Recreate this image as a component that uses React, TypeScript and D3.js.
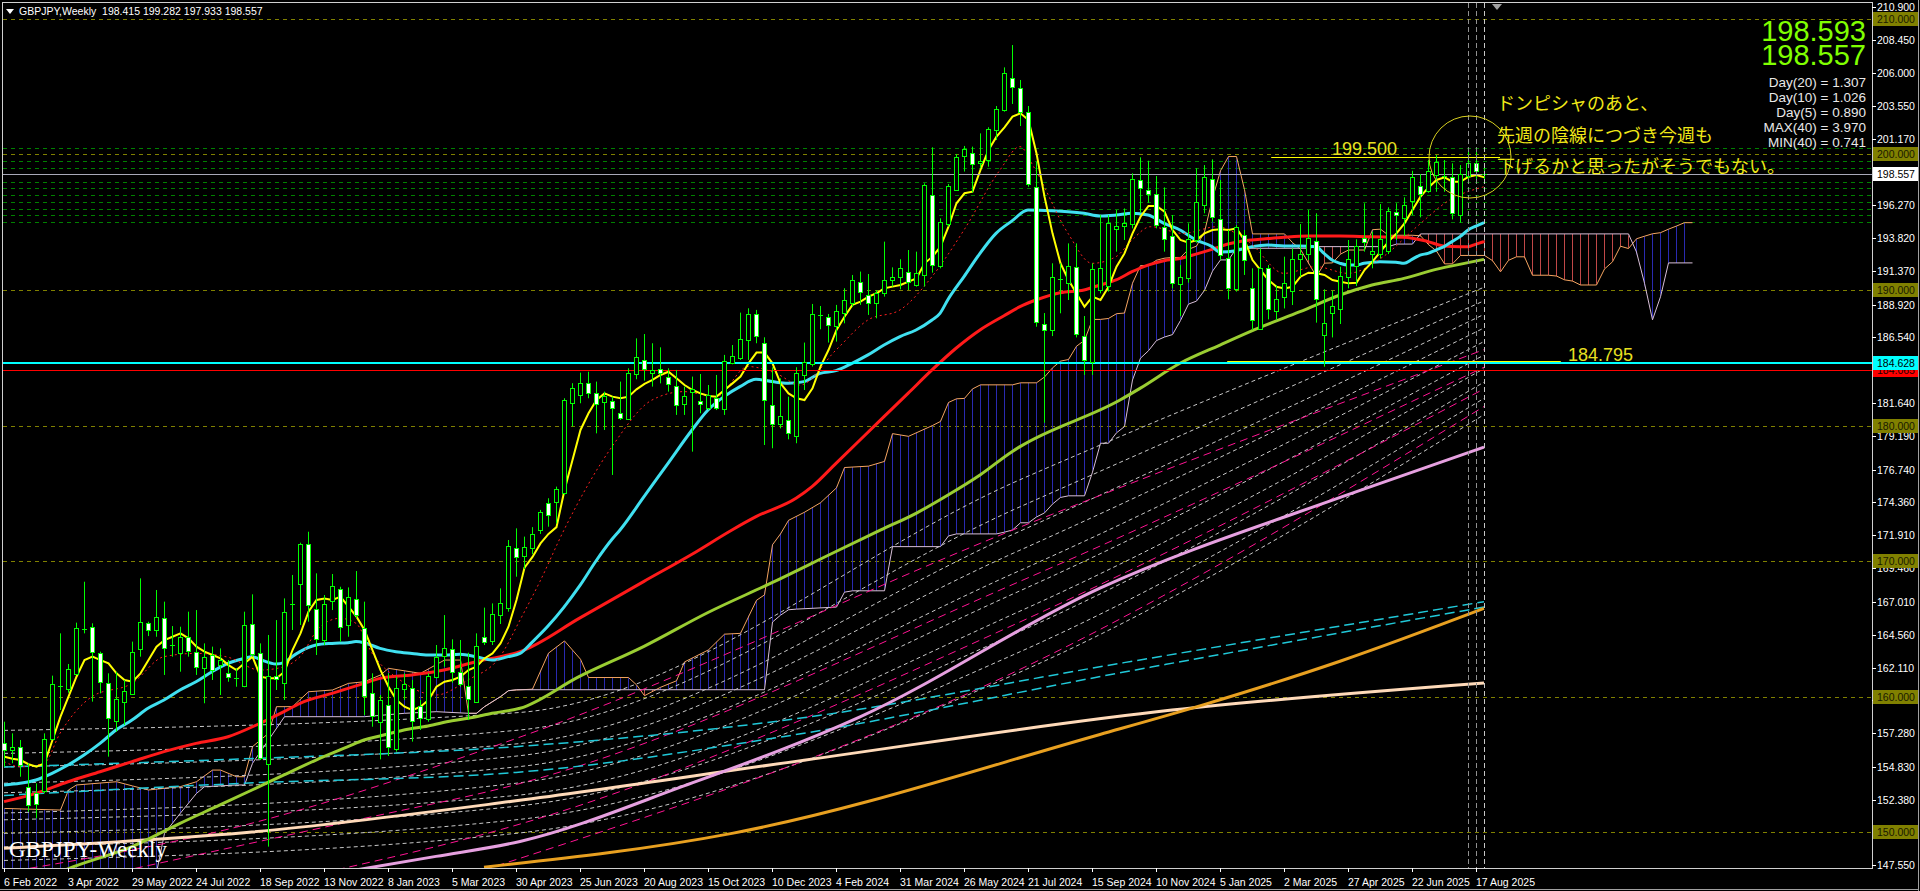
import React from 'react';
import * as d3 from 'd3';

// ---------- DATA ----------
const opens = [156.54,156.1,156.30,153.34,152.90,152.98,156.84,160.70,160.53,161.66,164.96,165.10,163.23,161.02,158.21,159.64,160.23,163.48,165.40,164.91,165.77,163.70,163.23,164.36,163.31,162.15,163.06,162.32,161.71,161.30,160.77,165.35,163.18,155.07,161.51,161.02,166.78,168.28,171.23,166.43,164.17,167.05,167.91,165.28,167.22,165.08,160.23,158.09,159.40,156.10,160.55,160.65,159.30,158.39,161.46,162.99,163.53,161.83,160.80,159.62,164.36,164.05,166.01,166.58,170.93,170.3,171.0,172.29,174.26,174.31,175.00,181.64,182.30,183.16,182.42,181.76,181.83,180.95,180.53,183.80,184.83,183.90,184.15,183.56,182.92,181.59,182.42,181.83,181.27,182.06,181.27,184.64,184.96,186.31,188.21,186.07,181.51,180.09,180.41,179.23,183.73,184.54,188.05,187.98,187.35,188.33,189.02,190.62,189.63,189.02,189.76,190.69,190.94,191.36,190.37,191.11,197.01,191.77,194.85,197.43,199.84,200.14,199.40,199.55,201.81,203.29,205.62,204.9,203.16,197.57,187.49,187.05,190.70,190.54,191.72,186.60,184.63,190.05,190.24,194.48,194.67,194.87,198.12,197.38,197.08,194.67,193.98,190.44,190.86,193.69,196.27,198.17,195.21,192.34,190.12,194.06,190.12,187.09,191.60,188.40,189.51,189.88,192.26,192.65,193.64,186.68,188.32,188.57,190.93,191.77,193.81,192.71,192.65,192.90,195.78,195.29,196.52,197.67,197.33,198.49,198.31,198.31,195.53,198.41,199.35,198.415];
const highs = [158.14,157.28,156.79,155.07,153.59,157.28,161.54,164.66,162.40,165.45,168.47,165.40,163.31,161.71,161.83,161.22,164.05,168.72,165.52,167.86,167.0,165.2,165.15,166.26,166.38,163.92,163.68,163.55,162.69,162.08,166.26,167.54,163.92,164.54,165.64,167.24,168.97,171.35,172.16,169.09,167.49,169.04,168.10,168.05,169.26,167.0,161.71,160.11,161.71,161.46,161.71,161.22,159.74,161.71,163.80,166.01,164.22,164.17,163.23,164.66,166.56,166.87,167.98,171.55,172.41,171.8,172.5,173.77,174.63,175.49,182.01,183.12,183.90,183.97,183.24,182.50,182.13,183.24,184.22,186.43,186.75,186.07,185.77,184.22,184.10,182.87,183.61,183.80,182.99,183.73,185.21,185.94,188.33,188.65,188.53,186.51,184.30,183.48,182.13,184.30,186.12,188.97,188.82,188.23,188.90,190.13,191.11,191.36,191.18,190.0,193.57,191.67,192.27,192.95,192.83,197.87,200.53,195.29,197.82,200.04,200.63,200.58,201.56,202.01,203.58,206.43,208.08,205.5,203.58,199.47,188.3,191.97,191.97,193.44,193.44,188.08,191.97,195.53,195.53,195.90,196.02,198.61,199.79,199.54,198.41,197.57,195.53,191.84,194.92,198.98,199.22,199.64,198.12,194.43,194.80,194.43,191.60,193.07,191.84,190.37,192.46,193.07,194.87,195.90,195.66,190.05,189.95,191.72,193.69,193.74,196.40,194.30,196.35,196.10,196.40,196.84,198.80,198.56,199.59,199.96,199.59,199.35,199.22,200.28,200.28,199.282];
const lows = [154.82,155.07,154.08,151.50,151.01,152.85,156.79,159.0,160.28,161.59,164.66,159.62,160.23,155.56,157.40,157.90,160.18,162.94,164.46,164.41,161.59,162.94,161.83,162.94,161.59,159.50,161.22,160.11,161.09,160.72,160.68,162.94,155.31,148.92,160.48,159.74,164.91,165.28,165.52,163.06,163.80,166.38,164.05,164.41,165.77,158.63,157.77,155.36,155.61,155.93,159.74,156.67,157.53,158.14,161.34,162.20,161.02,160.72,158.26,159.54,163.80,163.80,165.35,166.26,168.84,169.4,170.5,172.0,172.53,172.78,174.87,179.92,181.64,182.01,179.42,179.67,176.35,180.41,180.46,183.41,183.31,182.87,183.11,182.50,180.78,180.78,178.07,180.90,181.14,181.14,180.78,184.52,184.84,184.84,186.07,178.56,178.32,179.79,178.98,178.69,182.62,184.35,187.10,186.12,186.19,187.54,188.77,188.90,188.16,187.91,189.51,190.25,190.05,190.0,190.25,190.25,191.28,191.60,194.68,197.38,198.74,197.19,198.98,199.10,201.07,203.16,203.73,202.1,197.62,187.29,180.2,186.6,188.28,189.26,186.50,183.73,183.73,189.75,189.88,192.83,193.69,194.55,195.71,196.44,194.55,192.83,190.12,188.08,190.54,193.49,195.66,195.04,192.21,189.31,189.88,191.11,187.05,187.05,187.83,187.78,188.64,188.89,190.98,192.21,187.59,184.34,186.50,187.49,190.12,190.29,192.83,191.60,192.33,192.65,193.69,193.98,195.53,195.36,197.18,197.25,197.25,195.21,194.97,197.99,198.12,197.933];
const closes = [156.05,156.3,154.94,151.99,152.07,156.84,160.90,160.80,162.00,165.03,165.00,163.26,161.07,158.46,159.81,160.43,163.31,165.47,164.91,165.89,163.55,163.78,164.41,163.31,162.20,162.94,161.95,162.69,161.39,161.36,165.25,163.14,155.44,161.54,161.29,166.26,166.82,171.23,166.75,164.22,166.80,168.18,165.10,167.37,166.01,160.04,158.56,159.74,156.30,160.60,160.90,158.21,158.39,161.54,162.94,163.55,161.83,160.92,159.81,163.75,163.99,166.06,166.87,171.13,170.27,171.0,172.0,173.64,173.40,175.29,181.88,182.75,183.16,182.42,181.64,182.18,181.34,180.60,183.90,185.08,184.15,184.10,183.85,183.07,181.51,182.20,182.67,181.59,182.25,181.32,184.79,185.13,186.36,188.23,186.61,181.88,180.09,180.70,179.42,183.85,184.71,188.21,188.12,187.42,188.48,189.26,190.74,189.88,189.07,189.76,190.74,190.94,191.60,190.62,191.23,197.75,191.85,195.04,197.68,199.84,200.38,199.35,199.55,201.86,203.34,205.99,204.96,203.16,197.82,187.59,187.05,190.98,190.78,191.79,186.75,184.83,191.52,191.65,194.92,194.72,194.92,198.17,197.50,197.08,194.80,193.81,190.54,190.98,193.74,196.52,198.36,195.36,192.58,190.12,194.67,192.21,187.73,191.60,188.57,189.31,190.54,192.26,192.65,193.81,189.38,187.59,188.82,191.03,192.26,193.25,193.49,192.90,193.74,195.85,195.53,196.27,198.31,197.08,198.80,199.47,198.41,195.66,198.56,199.39,198.73,198.557];

// Fast moving average (yellow), one value per bar
const yellowMA = [155.56,155.4,155.31,155.0,154.82,155.07,156.79,158.51,159.99,161.46,162.69,162.94,162.69,162.45,161.71,161.22,161.09,161.71,162.69,163.68,164.17,164.41,164.66,164.29,163.68,163.31,163.06,162.81,162.32,161.95,162.45,162.94,161.46,161.34,161.34,161.83,163.43,164.66,166.26,167.12,167.24,167.12,167.37,166.63,165.89,164.91,163.43,161.95,160.72,159.74,159.25,159.0,159.25,159.74,160.72,161.09,161.22,161.46,161.95,162.20,162.81,163.18,163.92,165.15,167.12,169.5,170.3,171.3,172.0,172.5,175.24,177.45,179.67,180.90,181.88,182.37,182.13,182.01,182.13,182.67,183.07,183.36,183.73,183.97,183.48,182.99,182.62,182.37,182.18,182.13,182.62,183.11,183.61,184.59,185.38,185.38,184.59,183.11,182.37,182.01,181.88,182.75,184.35,185.57,187.05,188.03,188.90,189.14,189.51,189.76,190.13,190.25,190.37,190.62,190.86,191.97,192.46,193.20,194.68,196.40,197.14,197.26,198.86,200.33,201.32,202.0,202.8,203.04,202.54,200.08,196.89,194.18,191.97,190.74,189.75,188.77,189.51,189.26,190.24,191.72,192.70,194.18,195.41,196.20,196.20,195.78,194.43,193.69,193.49,193.69,194.18,194.43,194.48,194.43,194.55,193.69,192.21,191.47,190.74,190.24,190.12,190.24,190.98,191.28,191.23,191.11,190.74,190.61,190.49,190.54,191.47,192.09,192.83,193.57,194.18,194.92,195.90,196.89,197.57,198.12,198.31,197.99,197.99,198.36,198.49,198.31];

// Other lines, read as [bar index, price]
const redDotMA: [number, number][] = [[0,155.2],[2,154.82],[5,155.07],[7,157.28],[11,159.99],[16,160.97],[20,162.94],[24,163.18],[28,162.9],[32,161.95],[35,162.2],[37,162.94],[39.5,165.15],[42,165.77],[44,165.40],[46,163.2],[49.5,161.22],[54,160.11],[58,161.22],[62,162.94],[64.5,165.64],[67,168.5],[70,172.29],[76,178.44],[81,181.88],[85,182.50],[89,182.13],[93,184.35],[96.5,183.85],[99.5,182.99],[104,185.57],[108,187.79],[112,188.53],[116,190.99],[120,194.43],[124.5,198.86],[127,200.58],[128.7,199.10],[133,194.18],[136,191.97],[139,192.46],[141,193.69],[143.3,194.67],[147.4,194.18],[151.6,194.67],[155.7,193.5],[160,191.23],[164,191.72],[168,191.23],[172.4,192.46],[176.6,194.67],[180.7,196.64],[185,197.62]];
const cyanMA: [number, number][] = [[0,153.47],[2,153.59],[4,153.84],[6,154.33],[8,154.94],[10,155.68],[12,156.54],[14,157.53],[16,158.26],[18,159.13],[20,159.74],[22,160.48],[24,161.09],[26,161.83],[28,162.45],[30,162.81],[31,162.94],[32,162.74],[34,162.40],[35,162.50],[36,162.94],[37,163.31],[39,163.80],[41,163.92],[43,163.97],[44,164.05],[45,163.97],[47,163.55],[49,163.31],[51,163.18],[53,163.06],[55,163.06],[57,163.11],[59,162.94],[61,162.69],[63,162.94],[64.5,163.18],[66,164.0],[68,165.2],[70,166.6],[72,168.2],[74,170.0],[76,171.6],[77,172.29],[80,174.75],[83,177.21],[86,179.67],[88,181.14],[90,182.13],[92,182.87],[94,183.41],[96,183.24],[98,183.11],[100,183.24],[102,183.85],[104,184.05],[106,184.59],[108,185.21],[110,185.94],[112,186.56],[114,187.05],[116,187.79],[117,188.28],[118,189.3],[120,190.99],[122,192.71],[124,194.18],[126,195.1],[128,195.90],[131,195.85],[133,195.78],[135,195.66],[137,195.46],[139,195.53],[141,195.66],[143,195.53],[145,194.92],[147,194.43],[149,193.69],[151,193.20],[152,192.80],[154,192.90],[156,193.20],[158,193.32],[160,193.25],[162,193.25],[164,193.20],[165,192.70],[166,192.21],[167,191.97],[168,191.84],[169,191.84],[170,191.97],[172,192.09],[174,192.05],[175,191.97],[176,192.26],[177,192.58],[178,192.70],[179,192.95],[180,193.20],[181,193.57],[182,193.94],[183,194.43],[184,194.72],[185,194.97]];
const redMA: [number, number][] = [[0,152.24],[4,152.85],[8,153.71],[12,154.45],[16,155.19],[20,155.93],[24,156.54],[28,157.03],[32,158.02],[35,158.88],[37,159.50],[41,160.23],[45,160.97],[47,161.34],[51,161.59],[55,161.95],[59,162.57],[63,163.06],[64.5,163.31],[72,165.8],[80,168.5],[86,170.5],[91,172.29],[94,173.27],[99,174.63],[101,175.49],[104,177.21],[107,178.93],[110,180.65],[113,182.37],[116,184.10],[119,185.70],[122,187.05],[125,188.1],[127,188.77],[129,189.26],[132,189.80],[135,190.0],[137,190.37],[139,190.74],[141,191.35],[143,191.84],[145,192.16],[147,192.33],[149,192.65],[151,193.0],[153,193.39],[155,193.64],[157,193.74],[160,193.89],[163,193.98],[167,193.98],[171,193.93],[175,193.9],[178,193.57],[180,193.25],[182,193.20],[183,193.2],[184,193.39],[185,193.57]];
const greenMA: [number, number][] = [[6,146.8],[8.7,147.44],[16,148.92],[22,150.64],[27,152.0],[31,153.10],[35,154.21],[39,155.31],[43,156.30],[45,156.79],[47,157.08],[50,157.53],[53,157.82],[56,158.21],[58,158.39],[61,158.76],[64.5,159.13],[72,161.5],[80,163.7],[88,166.2],[96,168.4],[104,170.7],[109.6,172.29],[114,173.52],[118,174.87],[122,176.35],[126,178.07],[127,178.44],[139.5,181.88],[142,182.74],[147,184.59],[152,185.94],[157,187.24],[162,188.40],[167,189.63],[171,190.37],[175,190.86],[179,191.52],[183,192.02],[185,192.26]];
const plumMA: [number, number][] = [[44,147.2],[54,148.2],[64.5,149.3],[85,153.4],[107,158.5],[137,168.0],[168,174.9],[185,178.4]];
const orangeMA: [number, number][] = [[60,147.4],[91,149.9],[137,157.2],[150,159.4],[167,162.6],[185,166.5]];
const creamMA: [number, number][] = [[0,148.8],[31,150.0],[64,152.3],[100,155.3],[146,159.0],[185,161.0]];
const cyanDash1: [number, number][] = [[0,154.8],[30,155.4],[64,156.3],[97,158.2],[140,162.5],[185,167.0]];
const cyanDash2: [number, number][] = [[0,152.7],[30,153.6],[64,154.4],[97,157.0],[140,161.8],[185,166.6]];
const fanIdx = [0, 64, 127, 185];
const fanLines = [
  [157.5,158.8,176.0,190.2],
  [155.8,157.5,174.0,189.2],
  [154.8,156.5,172.2,188.2],
  [153.6,155.6,170.8,187.2],
  [152.9,154.8,169.3,186.2],
  [151.4,153.6,167.8,185.2],
  [150.9,152.7,166.3,184.2],
  [149.9,151.9,164.8,183.2],
  [148.9,150.9,163.3,182.0],
  [147.9,149.9,161.8,180.8],
];
const magentaLines: [number, number][][] = [
  [[0,147.0],[30,150.5],[64,156.9],[127,172.5],[185,185.6]],
  [[10,146.5],[45,151.0],[64,153.5],[127,168.5],[185,184.3]],
  [[40,147.0],[64,150.5],[127,165.5],[185,182.7]],
  [[60,147.2],[127,162.0],[185,181.4]],
];
const spanA: [number, number][] = [[0,151.74],[7,151.62],[8,153.10],[9,153.47],[14,153.71],[16,153.40],[18,153.10],[22,153.35],[24,153.71],[26,154.57],[27,154.57],[29,154.08],[30,154.08],[31,156.30],[33,157.28],[34,159.25],[36,159.25],[38,160.35],[41,160.48],[43,160.97],[45,161.09],[47,161.59],[48,162.08],[52,161.71],[55,162.69],[57,162.69],[58,158.76],[59,158.76],[60,159.25],[62,159.99],[63,160.43],[64,160.48],[66,160.54],[68,163.2],[70,164.1],[72,162.75],[73,161.4],[78,161.4],[79,160.86],[80,160.06],[82,160.68],[84,161.16],[85,162.55],[88,163.44],[90,164.6],[92,164.66],[94,167.1],[95,167.5],[96,171.2],[97,172.0],[98,173.0],[100,173.6],[102,174.3],[104,175.4],[105,176.9],[108,177.0],[110,177.35],[111,179.4],[113,179.2],[116,180.0],[117,180.3],[118,181.7],[119,181.97],[120,182.0],[121,182.7],[122,183.0],[126,183.0],[127,183.15],[129,183.15],[130,183.58],[131,184.25],[132,184.75],[133,184.87],[134,185.85],[135,186.29],[136,187.83],[137,187.83],[138,187.9],[139,188.25],[140,188.3],[141,190.5],[142,191.8],[143,191.8],[144,192.2],[145,192.35],[146,192.4],[147,192.4],[148,193.0],[149,193.24],[150,194.28],[151,196.76],[152,198.8],[153,199.85],[154,199.85],[155,197.4],[156,194.14],[160,194.14],[161,193.5],[162,193.0],[163,191.99],[164,191.0],[165,191.98],[166,192.0],[167,192.65],[168,192.95],[170,192.95],[171,194.45],[172,194.49],[173,194.04],[176,194.04],[177,194.0],[178,193.35],[179,192.88],[180,191.93],[181,191.93],[182,192.55],[185,192.55],[186,192.17],[187,191.34],[188,192.19],[189,192.45],[190,192.45],[191,191.09],[193,191.09],[194,191.03],[195,190.75],[196,190.66],[197,190.37],[199,190.37],[200,191.55],[201,192.08],[202,193.23],[203,193.06],[204,193.78],[205,193.97],[206,194.15],[207,194.23],[208,194.49],[209,194.72],[210,194.97],[211,194.97]];
const spanB: [number, number][] = [[0,140],[18,144],[19,147.0],[20,149.9],[22,151.4],[24,152.85],[25,153.34],[29,153.47],[30,153.47],[31,155.07],[33,156.79],[35,158.51],[45,158.51],[50,158.76],[54,158.88],[58,158.76],[59,158.76],[60,159.25],[62,159.99],[63,160.43],[64,160.5],[95,160.5],[96,165.5],[97,166.0],[98,166.4],[99,166.45],[104,166.6],[105,167.7],[106,167.8],[110,167.8],[111,171.06],[117,171.06],[118,171.85],[119,172.0],[124,172.0],[125,172.13],[126,172.29],[127,172.82],[128,172.82],[129,173.25],[130,173.55],[131,174.2],[132,174.69],[133,174.81],[135,174.81],[136,176.56],[137,178.69],[138,178.69],[139,179.46],[140,179.92],[141,183.36],[142,184.97],[143,185.52],[144,186.27],[145,186.53],[146,186.71],[147,187.75],[148,188.96],[149,189.18],[150,189.97],[151,191.39],[152,192.22],[153,192.22],[154,193.08],[163,193.08],[164,193.2],[173,193.2],[174,193.39],[176,193.39],[177,194.14],[203,194.14],[204,192.8],[205,190.5],[206,187.8],[207,189.5],[208,192.0],[211,192.0]];

const roundLevels = [210, 200, 190, 180, 170, 160, 150];
const greenLevels = [200.5, 199.5, 199.0, 198.0, 197.5, 197.0, 196.5, 196.0, 195.5, 195.0];
const priceTicks = [210.9,208.45,206.0,203.55,201.17,196.27,193.82,191.37,188.92,186.54,181.64,179.19,176.74,174.36,171.91,169.46,167.01,164.56,162.11,159.73,157.28,154.83,152.38,147.55];
const dateLabels = ['6 Feb 2022','3 Apr 2022','29 May 2022','24 Jul 2022','18 Sep 2022','13 Nov 2022','8 Jan 2023','5 Mar 2023','30 Apr 2023','25 Jun 2023','20 Aug 2023','15 Oct 2023','10 Dec 2023','4 Feb 2024','31 Mar 2024','26 May 2024','21 Jul 2024','15 Sep 2024','10 Nov 2024','5 Jan 2025','2 Mar 2025','27 Apr 2025','22 Jun 2025','17 Aug 2025'];
const dateLabelIdx = [0,8,16,24,32,40,48,56,64,72,80,88,96,104,112,120,128,136,144,152,160,168,176,184];
const vLineIdx = [183, 184, 185];
const bidPrice = 198.557;
const cyanLevel = 184.628;
const redLevel = 184.065;
const yellowLevelA = { price: 199.85, from: 158.4, to: 187.0, label: '199.500' };
const yellowLevelB = { price: 184.78, from: 152.9, to: 194.6, label: '184.795' };
const bigNums = ['198.593', '198.557'];
const statLines = ['Day(20) = 1.307', 'Day(10) = 1.026', 'Day(5) = 0.890', 'MAX(40) = 3.970', 'MIN(40) = 0.741'];
const noteLines = ['ドンピシャのあと、', '先週の陰線につづき今週も', '下げるかと思ったがそうでもない。'];
const titleText = 'GBPJPY,Weekly  198.415 199.282 197.933 198.557';

export default function App() {
  const PL = 3, PT = 3, PR = 1872, PB = 868;
  const x = d3.scaleLinear().domain([0, 185]).range([4, 1484]);
  const y = d3.scaleLinear().domain([210, 150]).range([19, 832]);
  const px = (i: number) => Math.round(x(i));
  const py = (p: number) => Math.round(y(p));

  const smooth = d3.line<[number, number]>().x(d => x(d[0])).y(d => y(d[1])).curve(d3.curveMonotoneX);
  const straight = d3.line<[number, number]>().x(d => x(d[0]) + 0.5).y(d => y(d[1]));

  const belowA = d3.area<[number, number]>().x(d => x(d[0])).y0(PB + 50).y1(d => y(d[1]))(spanA) || '';
  const aboveA = d3.area<[number, number]>().x(d => x(d[0])).y0(-50).y1(d => y(d[1]))(spanA) || '';
  const belowB = d3.area<[number, number]>().x(d => x(d[0])).y0(PB + 50).y1(d => y(d[1]))(spanB) || '';
  const aboveB = d3.area<[number, number]>().x(d => x(d[0])).y0(-50).y1(d => y(d[1]))(spanB) || '';

  const yellowPts: [number, number][] = yellowMA.map((v, i) => [i, v]);
  const fanPts = fanLines.map(arr => arr.map((v, k) => [fanIdx[k], v] as [number, number]));

  const fontAxis = 'Liberation Sans, Arial, sans-serif';

  return (
    <svg width={1920} height={891} style={{ position: 'fixed', left: 0, top: 0, background: '#000' }}>
      <defs>
        <clipPath id="plot"><rect x={PL} y={PT} width={PR - PL} height={PB - PT} /></clipPath>
        <clipPath id="cBelowA"><path d={belowA} /></clipPath>
        <clipPath id="cAboveA"><path d={aboveA} /></clipPath>
        <clipPath id="cBelowB"><path d={belowB} /></clipPath>
        <clipPath id="cAboveB"><path d={aboveB} /></clipPath>
        <pattern id="hatchBlue" patternUnits="userSpaceOnUse" width="8" height="8">
          <rect x="4" y="0" width="1" height="8" fill="#2a2ab0" />
        </pattern>
        <pattern id="hatchRed" patternUnits="userSpaceOnUse" width="8" height="8">
          <rect x="4" y="0" width="1" height="8" fill="#c04848" />
        </pattern>
      </defs>
      <rect x={0} y={0} width={1920} height={891} fill="#000" />

      <g clipPath="url(#plot)">
        {roundLevels.map(l => (
          <line key={'r' + l} x1={PL} x2={PR} y1={py(l) + 0.5} y2={py(l) + 0.5} stroke="#808000" strokeDasharray="4,4" />
        ))}
        {greenLevels.map(l => (
          <line key={'g' + l} x1={PL} x2={PR} y1={py(l) + 0.5} y2={py(l) + 0.5} stroke="#008000" strokeDasharray="4,4" />
        ))}

        <g clipPath="url(#cBelowA)">
          <rect x={0} y={0} width={1920} height={891} fill="url(#hatchBlue)" clipPath="url(#cAboveB)" />
        </g>
        <g clipPath="url(#cAboveA)">
          <rect x={0} y={0} width={1920} height={891} fill="url(#hatchRed)" clipPath="url(#cBelowB)" />
        </g>
        <path d={straight(spanA) || ''} fill="none" stroke="#f4a460" strokeWidth={1} />
        <path d={straight(spanB) || ''} fill="none" stroke="#d8bfd8" strokeWidth={1} />

        {fanPts.map((pts, k) => (
          <path key={'f' + k} d={smooth(pts) || ''} fill="none" stroke="#c8c8c8" strokeWidth={1} strokeDasharray="4,3" />
        ))}
        {magentaLines.map((pts, k) => (
          <path key={'m' + k} d={smooth(pts) || ''} fill="none" stroke="#ff1493" strokeWidth={1} strokeDasharray="8,5" />
        ))}
        <path d={smooth(cyanDash1) || ''} fill="none" stroke="#20c8d8" strokeWidth={1.5} strokeDasharray="10,5" />
        <path d={smooth(cyanDash2) || ''} fill="none" stroke="#20c8d8" strokeWidth={1.5} strokeDasharray="10,5" />
        <path d={smooth(creamMA) || ''} fill="none" stroke="#ffdab9" strokeWidth={3} />
        <path d={smooth(orangeMA) || ''} fill="none" stroke="#e8a020" strokeWidth={3} />
        <path d={smooth(plumMA) || ''} fill="none" stroke="#e6a0e0" strokeWidth={3} />
        <path d={smooth(greenMA) || ''} fill="none" stroke="#9acd32" strokeWidth={3} />
        <path d={smooth(redMA) || ''} fill="none" stroke="#ff1a1a" strokeWidth={3} />
        <path d={smooth(cyanMA) || ''} fill="none" stroke="#40e0f0" strokeWidth={3} />
        <path d={smooth(redDotMA) || ''} fill="none" stroke="#ff2020" strokeWidth={1} strokeDasharray="2,3" />
        <path d={straight(yellowPts) || ''} fill="none" stroke="#ffff00" strokeWidth={2} />

        <line x1={PL} x2={PR} y1={py(cyanLevel)} y2={py(cyanLevel)} stroke="#00ffff" strokeWidth={2} />
        <line x1={PL} x2={PR} y1={py(redLevel) + 0.5} y2={py(redLevel) + 0.5} stroke="#ff0000" strokeWidth={1} />
        <line x1={PL} x2={PR} y1={py(bidPrice) + 0.5} y2={py(bidPrice) + 0.5} stroke="#a8a8b8" strokeWidth={1} />
        <line x1={x(yellowLevelA.from)} x2={x(yellowLevelA.to)} y1={py(yellowLevelA.price) + 0.5} y2={py(yellowLevelA.price) + 0.5} stroke="#ffff00" strokeWidth={1} />
        <line x1={x(yellowLevelB.from)} x2={x(yellowLevelB.to)} y1={py(yellowLevelB.price) + 0.5} y2={py(yellowLevelB.price) + 0.5} stroke="#ffff00" strokeWidth={1} />

        {opens.map((o, i) => {
          const c = closes[i];
          const cx = px(i);
          const top = y(Math.max(o, c));
          const bot = y(Math.min(o, c));
          const bull = c >= o;
          const h = Math.max(1, bot - top);
          return (
            <g key={'c' + i}>
              <line x1={cx + 0.5} x2={cx + 0.5} y1={y(highs[i])} y2={y(lows[i])} stroke="#00ff00" strokeWidth={1} />
              {h < 2 ? (
                <line x1={cx - 2} x2={cx + 3} y1={Math.round(top) + 0.5} y2={Math.round(top) + 0.5} stroke="#00ff00" strokeWidth={1} />
              ) : (
                <rect x={cx - 1.5} y={Math.round(top) + 0.5} width={4} height={Math.round(h)} fill={bull ? '#000' : '#ffffff'} stroke="#00ff00" strokeWidth={1} />
              )}
            </g>
          );
        })}

        {vLineIdx.map((i, k) => (
          <line key={'v' + i} x1={px(i) + 0.5} x2={px(i) + 0.5} y1={PT} y2={PB} stroke={k === 2 ? '#c8c8c8' : '#909090'} strokeDasharray="5,3" />
        ))}

        <circle cx={1470} cy={157} r={41} fill="none" stroke="#d8d020" strokeWidth={1} />
        <text x={1332} y={155} fill="#e8e020" fontSize={18} fontFamily={fontAxis}>{yellowLevelA.label}</text>
        <text x={1568} y={361} fill="#e8e020" fontSize={18} fontFamily={fontAxis}>{yellowLevelB.label}</text>
        {noteLines.map((t, k) => (
          <text key={'n' + k} x={1497} y={110 + k * 31.5} fill="#f0e818" fontSize={18} fontFamily="Noto Sans CJK JP, sans-serif">{t}</text>
        ))}
        {bigNums.map((t, k) => (
          <text key={'b' + k} x={1866} y={41 + k * 24} fill="#80ff00" fontSize={29} textAnchor="end" fontFamily={fontAxis}>{t}</text>
        ))}
        {statLines.map((t, k) => (
          <text key={'s' + k} x={1866} y={87 + k * 15} fill="#e8e8e8" fontSize={13.5} textAnchor="end" fontFamily={fontAxis}>{t}</text>
        ))}
        <text x={9} y={857} fill="#ffffff" fontSize={23} fontFamily="Liberation Serif, Times New Roman, serif">GBPJPY-Weekly</text>
      </g>

      <path d="M6,9 L14,9 L10,14 Z" fill="#ffffff" />
      <text x={19} y={15} fill="#ffffff" fontSize={10.5} fontFamily={fontAxis} style={{ whiteSpace: 'pre' }}>{titleText}</text>
      <path d="M1492,4 L1502,4 L1497,10 Z" fill="#a0a0a0" />

      <rect x={PL - 0.5} y={PT - 0.5} width={PR - PL + 1} height={PB - PT + 1} fill="none" stroke="#d0d0d0" strokeWidth={1} />
      <line x1={1918.5} x2={1918.5} y1={0} y2={891} stroke="#a0a0a0" />
      <line x1={0} x2={1919} y1={889.5} y2={889.5} stroke="#a0a0a0" />

      {priceTicks.map(t => (
        <g key={'p' + t}>
          <line x1={PR} x2={PR + 4} y1={py(t) + 0.5} y2={py(t) + 0.5} stroke="#ffffff" />
          <text x={1877} y={py(t) + 4} fill="#ffffff" fontSize={10.5} fontFamily={fontAxis}>{t.toFixed(3)}</text>
        </g>
      ))}
      {roundLevels.map(l => (
        <g key={'rl' + l}>
          <rect x={1873} y={py(l) - 7} width={45} height={14} fill="#808000" />
          <text x={1877} y={py(l) + 4} fill="#1a1a00" fontSize={10.5} fontFamily={fontAxis}>{l.toFixed(3)}</text>
        </g>
      ))}
      <rect x={1873} y={py(redLevel) - 7} width={45} height={14} fill="#ff0000" />
      <text x={1877} y={py(redLevel) + 4} fill="#200000" fontSize={10.5} fontFamily={fontAxis}>{redLevel.toFixed(3)}</text>
      <rect x={1873} y={py(cyanLevel) - 7} width={45} height={14} fill="#00ffff" />
      <text x={1877} y={py(cyanLevel) + 4} fill="#000000" fontSize={10.5} fontFamily={fontAxis}>{cyanLevel.toFixed(3)}</text>
      <rect x={1873} y={py(bidPrice) - 7} width={45} height={14} fill="#ffffff" />
      <text x={1877} y={py(bidPrice) + 4} fill="#000000" fontSize={10.5} fontFamily={fontAxis}>{bidPrice.toFixed(3)}</text>

      {dateLabelIdx.map((i, k) => (
        <g key={'d' + i}>
          <line x1={px(i) + 0.5} x2={px(i) + 0.5} y1={PB} y2={PB + 4} stroke="#ffffff" />
          <text x={px(i)} y={886} fill="#ffffff" fontSize={10.5} fontFamily={fontAxis}>{dateLabels[k]}</text>
        </g>
      ))}
    </svg>
  );
}
